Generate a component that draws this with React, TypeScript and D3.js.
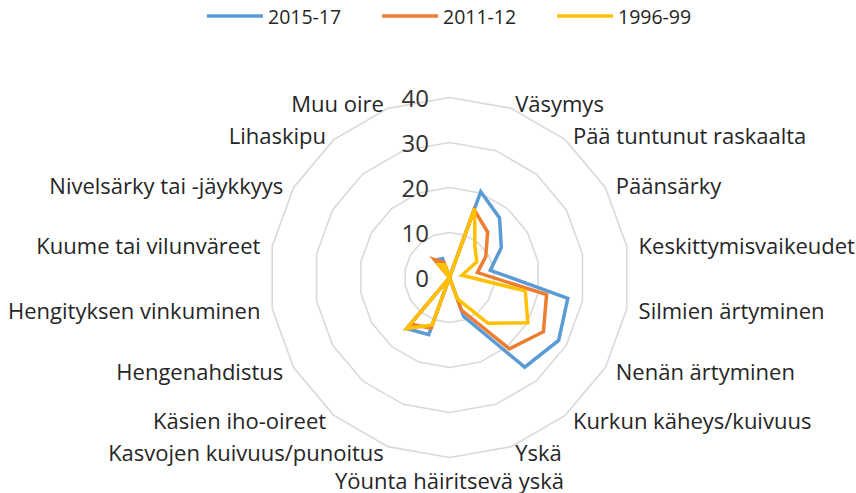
import React from "react";
import * as d3 from "d3";

const categories = [
  "",
  "Väsymys",
  "Pää tuntunut raskaalta",
  "Päänsärky",
  "Keskittymisvaikeudet",
  "Silmien ärtyminen",
  "Nenän ärtyminen",
  "Kurkun käheys/kuivuus",
  "Yskä",
  "Yöunta häiritsevä yskä",
  "Kasvojen kuivuus/punoitus",
  "Käsien iho-oireet",
  "Hengenahdistus",
  "Hengityksen vinkuminen",
  "Kuume tai vilunväreet",
  "Nivelsärky tai -jäykkyys",
  "Lihaskipu",
  "Muu oire",
];

const s2015 = [0, 20.3, 17.3, 13.3, 9.2, 26.7, 28, 26, 9.2, 0, 13.5, 14.8, 0, 0, 0, 0, 5, 4.5];
const s2011 = [0, 16, 13.2, 9.3, 6.3, 21.9, 24.1, 20.7, 7.7, 0, 12, 13.5, 0, 0, 0, 0, 5.2, 3.5];
const s1996 = [0, 16.3, 8.8, 7, 2.8, 17.1, 20.1, 13.3, 5, 0, 11.2, 14.8, 0, 0, 0, 0, 3.7, 3];

const seriesNames = ["2015-17", "2011-12", "1996-99"];
const seriesColors = ["#5B9BD5", "#ED7D31", "#FFC000"];
const ticks = [0, 10, 20, 30, 40];

const W = 856;
const H = 493;
const cx = 449.5;
const cy = 277.5;
const R = 180;
const FONT = "'Open Sans', sans-serif";

export default function App() {
  const series = [s2015, s2011, s1996];
  const n = categories.length;
  const angle = d3
    .scaleLinear()
    .domain([0, n])
    .range([0, 2 * Math.PI]);
  const r = d3.scaleLinear().domain([0, 40]).range([0, R]);

  const pt = (i: number, v: number): [number, number] => {
    const a = angle(i);
    return [cx + r(v) * Math.sin(a), cy - r(v) * Math.cos(a)];
  };

  const line = d3
    .line<[number, number]>()
    .x((d) => d[0])
    .y((d) => d[1])
    .curve(d3.curveLinearClosed);

  const rings = ticks.slice(1).map((t) =>
    line(categories.map((_, i) => pt(i, t)))
  );

  const legendX = [207, 382, 557];

  return (
    <svg
      width={W}
      height={H}
      style={{ position: "absolute", left: 0, top: 0, background: "#fff" }}
      fontFamily={FONT}
    >
      <rect x={0} y={0} width={W} height={H} fill="#fff" />
      {rings.map((d, i) => (
        <path key={i} d={d || ""} fill="none" stroke="#D9D9D9" strokeWidth={1.6} />
      ))}
      {series.map((s, k) => (
        <path
          key={k}
          d={line(s.map((v, i) => pt(i, v))) || ""}
          fill="none"
          stroke={seriesColors[k]}
          strokeWidth={3.5}
          strokeLinejoin="miter"
        />
      ))}
      {ticks.map((t) => (
        <text
          key={t}
          x={429}
          y={cy - r(t)}
          textAnchor="end"
          dominantBaseline="central"
          fontSize={24}
          fill="#333"
        >
          {t}
        </text>
      ))}
      {categories.map((c, i) => {
        if (!c) return null;
        const a = angle(i);
        const s = Math.sin(a);
        const co = Math.cos(a);
        let anchor = "middle";
        if (s > 0.05) anchor = "start";
        else if (s < -0.05) anchor = "end";
        const x = cx + 192 * s;
        let y = cy - 186 * co;
        if (Math.abs(s) <= 0.05) y = cy - (R + 22) * co;
        return (
          <text
            key={i}
            x={x}
            y={y}
            textAnchor={anchor}
            dominantBaseline="central"
            fontSize={22}
            fill="#262626"
          >
            {c}
          </text>
        );
      })}
      {seriesNames.map((nm, k) => (
        <g key={nm}>
          <line
            x1={legendX[k]}
            x2={legendX[k] + 56}
            y1={16}
            y2={16}
            stroke={seriesColors[k]}
            strokeWidth={3.5}
          />
          <text
            x={legendX[k] + 61}
            y={16}
            dominantBaseline="central"
            fontSize={19.5}
            fill="#262626"
          >
            {nm}
          </text>
        </g>
      ))}
    </svg>
  );
}
